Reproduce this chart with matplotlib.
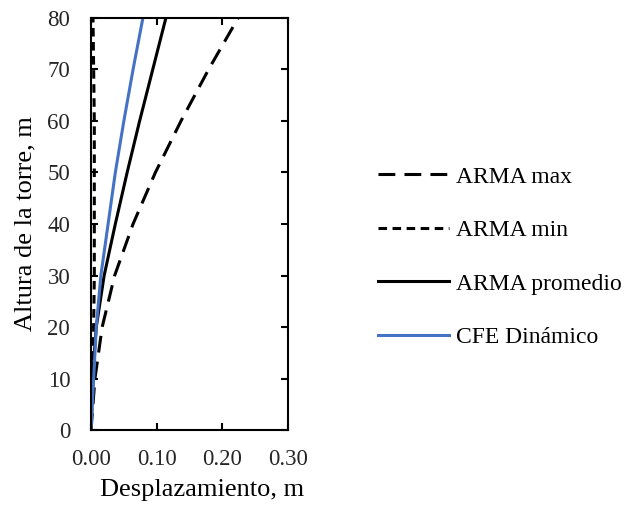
import numpy as np
import matplotlib
matplotlib.use('Agg')
import matplotlib.pyplot as plt

plt.rcParams['font.family'] = ['Liberation Serif', 'DejaVu Serif']

altura = [0, 10, 20, 30, 40, 50, 60, 70, 80]
arma_max = [0.0, 0.006, 0.017, 0.036, 0.064, 0.098, 0.137, 0.179, 0.224]
arma_min = [0.0, 0.003, 0.004, 0.005, 0.005, 0.005, 0.005, 0.004, 0.003]
arma_prom = [0.0, 0.002, 0.008, 0.020, 0.037, 0.055, 0.074, 0.094, 0.114]
cfe_din = [0.0, 0.004, 0.008, 0.015, 0.026, 0.037, 0.050, 0.064, 0.079]

fig = plt.figure(figsize=(6.26, 5.08), dpi=100)
ax = fig.add_axes([0.1454, 0.1535, 0.3147, 0.8111])

ax.plot(arma_max, altura, color='black', lw=2.2, dashes=(5.5, 3), label='ARMA max')
ax.plot(arma_min, altura, color='black', lw=2.2, dashes=(2.8, 1.8), label='ARMA min')
ax.plot(arma_prom, altura, color='black', lw=2.2, label='ARMA promedio')
ax.plot(cfe_din, altura, color='#4472C4', lw=2.2, label='CFE Dinámico')

ax.set_xlim(0, 0.30)
ax.set_ylim(0, 80)
ax.set_xticks([0.0, 0.1, 0.2, 0.3])
ax.set_xticklabels(['0.00', '0.10', '0.20', '0.30'])
ax.set_yticks(range(0, 81, 10))
ax.tick_params(direction='in', top=True, right=True, length=5, width=1.5,
               labelsize=16.5, color='black', labelcolor='#262626')
ax.tick_params(axis='x', pad=14)
ax.tick_params(axis='y', pad=15)
for s in ax.spines.values():
    s.set_linewidth(1.5)
    s.set_color('black')

ax.set_xlabel('Desplazamiento, m', fontsize=19)
ax.xaxis.set_label_coords(0.566, -0.119)
ax.set_ylabel('Altura de la torre, m', fontsize=19, labelpad=8)

fig.legend(loc='center left', bbox_to_anchor=(0.604, 0.494), frameon=False,
           borderpad=0, borderaxespad=0, fontsize=17, handlelength=3.0,
           handletextpad=0.3, labelspacing=1.35)

fig.savefig('out.png', dpi=100)
